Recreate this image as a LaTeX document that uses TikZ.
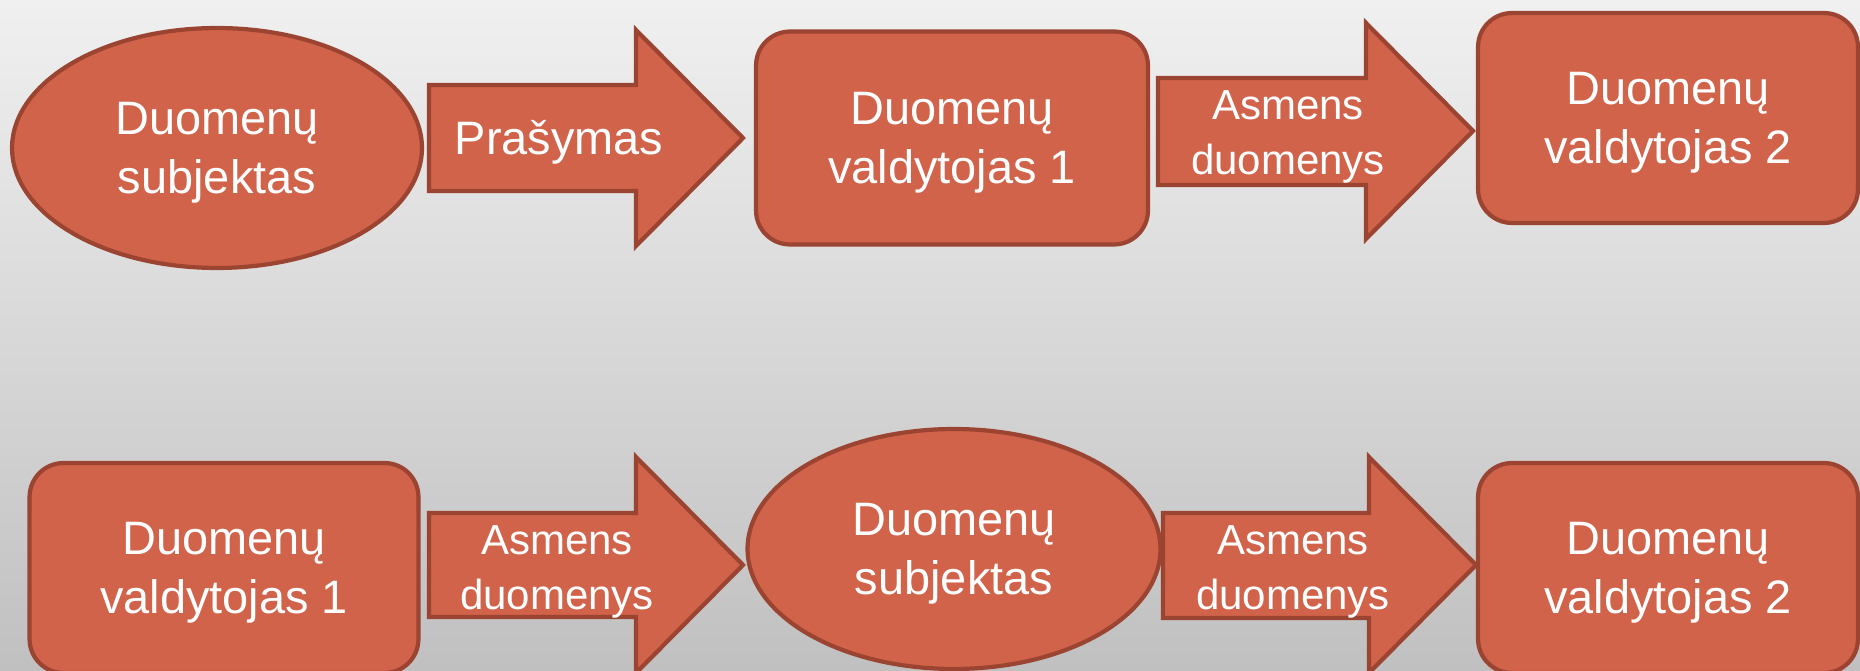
\documentclass[tikz,border=0pt]{standalone}
\usepackage{fontspec}
\setmainfont{Liberation Sans}
\usetikzlibrary{shapes.geometric}
\definecolor{boxfill}{RGB}{209,99,74}
\definecolor{boxline}{RGB}{156,68,50}
\definecolor{bgtop}{RGB}{240,240,240}
\definecolor{bgbottom}{RGB}{192,192,192}
\begin{document}
\begin{tikzpicture}[x=0.02cm,y=-0.02cm,
  party/.style={fill=boxfill,draw=boxline,line width=2.4pt,text=white,align=center,
    font=\fontsize{26.7}{33.5}\selectfont,text depth=0pt},
  subj/.style={party,ellipse,minimum width=8.2cm,minimum height=4.8cm},
  ctrl/.style={party,rectangle,rounded corners=0.68cm,minimum width=7.7cm,minimum height=4.2cm},
  flow/.style={fill=boxfill,draw=boxline,line width=2.4pt},
  flowtext/.style={text=white,align=center,font=\fontsize{23.9}{31}\selectfont}]
 \useasboundingbox (0,0) rectangle (1860,671);
 \fill[top color=bgtop,bottom color=bgbottom] (0,0) rectangle (1860,671);
 \node[subj] (subj1) at (217,148) {Duomenų\\subjektas};
 \filldraw[flow] (429,85) -- (636,85) -- (636,30) -- (743,138) -- (636,246) -- (636,191) -- (429,191) -- cycle;
 \node[flowtext,font=\fontsize{26.7}{33.5}\selectfont] (reqtext) at (559,142) {Prašymas};
 \node[ctrl,minimum width=7.84cm,minimum height=4.26cm] (ctrl1) at (952,138) {Duomenų\\valdytojas 1};
 \filldraw[flow] (1158,78) -- (1366,78) -- (1366,23) -- (1473,131) -- (1366,239) -- (1366,185) -- (1158,185) -- cycle;
 \node[flowtext] (data1text) at (1288,137) {Asmens\\duomenys};
 \node[ctrl,minimum width=7.6cm] (ctrl2) at (1668,118) {Duomenų\\valdytojas 2};
 \node[ctrl,minimum width=7.78cm] (ctrl3) at (224,568) {Duomenų\\valdytojas 1};
 \filldraw[flow] (429,513) -- (636,513) -- (636,457) -- (743,565) -- (636,673) -- (636,617) -- (429,617) -- cycle;
 \node[flowtext] (data2text) at (557,572) {Asmens\\duomenys};
 \node[subj,minimum width=8.26cm] (subj2) at (954,549) {Duomenų\\subjektas};
 \filldraw[flow] (1163,513) -- (1369,513) -- (1369,457) -- (1476,565) -- (1369,673) -- (1369,618) -- (1163,618) -- cycle;
 \node[flowtext] (data3text) at (1293,572) {Asmens\\duomenys};
 \node[ctrl,minimum width=7.6cm] (ctrl4) at (1668,568) {Duomenų\\valdytojas 2};
\end{tikzpicture}
\end{document}
